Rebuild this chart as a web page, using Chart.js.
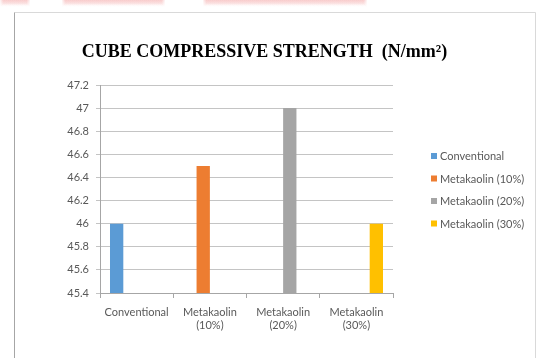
<!DOCTYPE html>
<html>
<head>
<meta charset="utf-8">
<script src="https://cdn.jsdelivr.net/npm/chart.js@4.4.1/dist/chart.umd.min.js"></script>
<style>
  html, body { margin: 0; padding: 0; background: #ffffff; }
  #wrap { position: relative; width: 536px; height: 358px; }
</style>
</head>
<body>
<div id="wrap"><canvas id="c" width="536" height="358"></canvas></div>
<script>
// Categories along the x axis (multi-line labels)
const categories = ['Conventional', ['Metakaolin', '(10%)'], ['Metakaolin', '(20%)'], ['Metakaolin', '(30%)']];

// Series names
const seriesNames = ['Conventional', 'Metakaolin (10%)', 'Metakaolin (20%)', 'Metakaolin (30%)'];

// Cube compressive strength (N/mm²), one series per mix
const conventional = [46.0, null, null, null];
const metakaolin10 = [null, 46.5, null, null];
const metakaolin20 = [null, null, 47.0, null];
const metakaolin30 = [null, null, null, 46.0];

// Value axis range
const yMin = 45.4;
const yMax = 47.2;
const yStep = 0.2;

const seriesColors = ['#5b9bd5', '#ed7d31', '#a5a5a5', '#ffc000'];
const seriesValues = [conventional, metakaolin10, metakaolin20, metakaolin30];

const labelFont = { family: 'Lato', size: 11 };
const labelColor = '#595959';

// Frame, faint header smudge and title
const framePlugin = {
  id: 'frame',
  beforeDraw(chart) {
    const ctx = chart.ctx;
    ctx.save();
    ctx.fillStyle = '#ffffff';
    ctx.fillRect(0, 0, chart.width, chart.height);
    // soft pink smudge along the top edge, fading downwards
    const fade = ctx.createLinearGradient(0, 0, 0, 7);
    fade.addColorStop(0, 'rgba(240,140,140,0.45)');
    fade.addColorStop(1, 'rgba(240,140,140,0)');
    ctx.fillStyle = fade;
    [[0, 30], [62, 103], [203, 164]].forEach(([x, w]) => {
      for (let k = 0; k < 4; k++) {
        ctx.globalAlpha = 0.3;
        ctx.fillRect(x + k, 0, w - 2 * k, 7 - k);
      }
    });
    ctx.globalAlpha = 1;
    // chart frame
    ctx.lineWidth = 1;
    ctx.strokeStyle = '#d9d9d9';
    ctx.beginPath();
    ctx.moveTo(14.5, 12.5);
    ctx.lineTo(535.5, 12.5);
    ctx.lineTo(535.5, 360);
    ctx.stroke();
    ctx.strokeStyle = '#a6a6a6';
    ctx.beginPath();
    ctx.moveTo(14.5, 12.5);
    ctx.lineTo(14.5, 360);
    ctx.stroke();
    ctx.restore();
  },
  afterDraw(chart) {
    const ctx = chart.ctx;
    ctx.save();
    ctx.fillStyle = '#000000';
    ctx.font = 'bold 18px "Liberation Serif"';
    ctx.textBaseline = 'alphabetic';
    ctx.textAlign = 'center';
    ctx.fillText('CUBE COMPRESSIVE STRENGTH  (N/mm²)', 264.5, 57);
    ctx.restore();
  }
};

// Legend drawn to the right of the plot
const sideLegend = {
  id: 'sideLegend',
  afterDraw(chart) {
    const ctx = chart.ctx;
    ctx.save();
    ctx.font = `${labelFont.size}px ${labelFont.family}`;
    ctx.textBaseline = 'middle';
    ctx.textAlign = 'left';
    chart.data.datasets.forEach((ds, i) => {
      const cy = 156 + i * 22.5;
      ctx.fillStyle = ds.backgroundColor;
      ctx.fillRect(431, cy - 3, 6, 6);
      ctx.fillStyle = labelColor;
      ctx.fillText(ds.label, 440, cy + 0.5);
    });
    ctx.restore();
  }
};

new Chart(document.getElementById('c'), {
  type: 'bar',
  data: {
    labels: categories,
    datasets: seriesNames.map((name, i) => ({
      label: name,
      data: seriesValues[i],
      backgroundColor: seriesColors[i],
      borderWidth: 0,
      categoryPercentage: 0.727,
      barPercentage: 1.0
    }))
  },
  options: {
    responsive: false,
    animation: false,
    devicePixelRatio: 1,
    layout: { padding: { left: 0, right: 143, top: 85, bottom: 0 } },
    plugins: {
      legend: { display: false },
      title: { display: false },
      tooltip: { enabled: false }
    },
    scales: {
      x: {
        grid: {
          display: true,
          offset: true,
          drawOnChartArea: false,
          drawTicks: true,
          tickLength: 5,
          color: '#a6a6a6'
        },
        border: { display: true, color: '#a6a6a6' },
        ticks: {
          font: labelFont,
          color: labelColor,
          padding: 8,
          maxRotation: 0,
          autoSkip: false
        },
        afterFit(scale) { scale.height = 65; }
      },
      y: {
        min: yMin,
        max: yMax,
        grid: {
          color: '#c4c4c4',
          lineWidth: 1,
          drawTicks: true,
          tickLength: 4
        },
        border: { display: true, color: '#a6a6a6' },
        ticks: {
          stepSize: yStep,
          font: labelFont,
          color: labelColor,
          padding: 7,
          callback: v => String(+v.toFixed(1))
        },
        afterFit(scale) { scale.width = 100; }
      }
    }
  },
  plugins: [framePlugin, sideLegend]
});
</script>
</body>
</html>
